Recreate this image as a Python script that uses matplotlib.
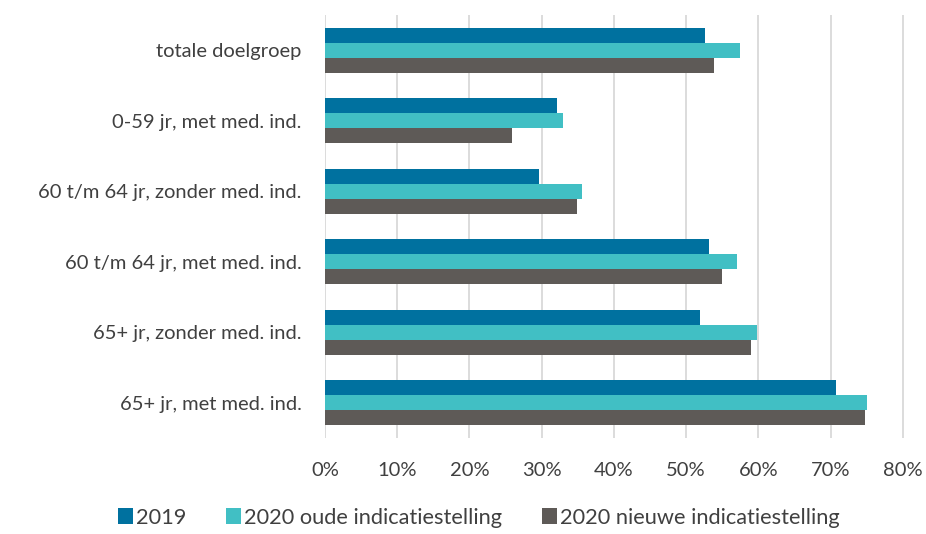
import matplotlib
matplotlib.use("Agg")
import matplotlib.pyplot as plt
import numpy as np
from matplotlib.ticker import PercentFormatter

categories = ["totale doelgroep", "0-59 jr, met med. ind.", "60 t/m 64 jr, zonder med. ind.",
              "60 t/m 64 jr, met med. ind.", "65+ jr, zonder med. ind.", "65+ jr, met med. ind."]
series_names = ["2019", "2020 oude indicatiestelling", "2020 nieuwe indicatiestelling"]
v2019 = [52.6, 32.1, 29.6, 53.1, 51.9, 70.7]
v2020_oud = [57.4, 33.0, 35.6, 57.1, 59.8, 75.1]
v2020_nieuw = [53.8, 25.9, 34.9, 55.0, 59.0, 74.7]
colors = ["#00719F", "#41BFC4", "#5E5A57"]

plt.rcParams['font.family'] = ['Lato', 'DejaVu Sans']

fig = plt.figure(figsize=(9.26, 5.34), dpi=100)
ax = fig.add_axes([325/926, 1-438/534, (905-325)/926, (438-15)/534])

y = np.arange(len(categories))
h = 0.215
for i, (vals, name, c) in enumerate(zip([v2019, v2020_oud, v2020_nieuw], series_names, colors)):
    ax.barh(y + (i - 1) * h, vals, height=h, color=c, label=name, zorder=3)

ax.set_ylim(len(categories) - 0.5, -0.5)
ax.set_xlim(0, 80.3)
ax.set_xticks(np.arange(0, 81, 10))
ax.xaxis.set_major_formatter(PercentFormatter(decimals=0))
ax.set_yticks(y)
ax.set_yticklabels(categories)
ax.grid(axis='x', color='#D9D9D9', linewidth=1.3, zorder=0)
for s in ax.spines.values():
    s.set_visible(False)
ax.tick_params(axis='both', length=0, labelsize=14.5, colors='#404040')
ax.tick_params(axis='y', pad=17)
ax.tick_params(axis='x', pad=17)

fig.legend(loc='lower center', bbox_to_anchor=(0.517, -0.025), ncol=3, frameon=False,
           fontsize=15.7, handlelength=0.7, handleheight=0.7, handletextpad=0.15,
           columnspacing=1.8, labelcolor='#404040')

fig.savefig("out.png", dpi=100)
